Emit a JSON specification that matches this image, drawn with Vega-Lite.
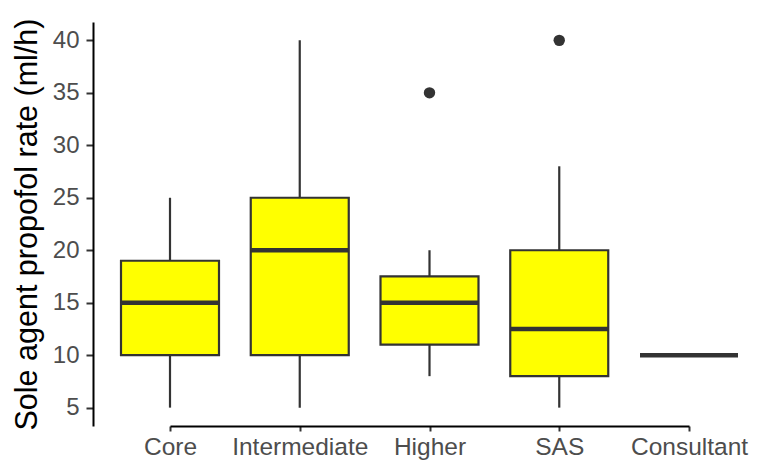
{
  "$schema": "https://vega.github.io/schema/vega-lite/v6.json",
  "width": 665,
  "height": 404,
  "autosize": {"type": "none"},
  "padding": {"left": 93, "top": 22, "right": 0, "bottom": 36},
  "background": "white",
  "config": {
    "view": {"stroke": null},
    "font": "Liberation Sans",
    "axis": {"grid": false, "domainColor": "black", "domainWidth": 2, "tickColor": "#333333", "tickWidth": 2, "tickSize": 7, "labelColor": "#4D4D4D", "labelFont": "Liberation Sans", "labelFontSize": 24.5, "titleFont": "Liberation Sans", "titleFontWeight": "normal", "titleColor": "black"}
  },
  "datasets": {
    "boxes": [
      {"grade": "Core", "lower": 5, "q1": 10, "median": 15, "q3": 19, "upper": 25},
      {"grade": "Intermediate", "lower": 5, "q1": 10, "median": 20, "q3": 25, "upper": 40},
      {"grade": "Higher", "lower": 8, "q1": 11, "median": 15, "q3": 17.5, "upper": 20},
      {"grade": "SAS", "lower": 5, "q1": 8, "median": 12.5, "q3": 20, "upper": 28},
      {"grade": "Consultant", "lower": 10, "q1": 10, "median": 10, "q3": 10, "upper": 10}
    ],
    "outliers": [
      {"grade": "Higher", "rate": 35},
      {"grade": "SAS", "rate": 40}
    ]
  },
  "encoding": {
    "x": {
      "field": "grade", "type": "nominal",
      "scale": {"type": "point", "domain": ["Core", "Intermediate", "Higher", "SAS", "Consultant"], "range": [77, 596], "padding": 0},
      "axis": {"title": null, "labelAngle": 0, "tickSize": 5, "labelPadding": 4, "domain": true}
    }
  },
  "layer": [
    {
      "data": {"name": "boxes"},
      "mark": {"type": "rule", "color": "#333333", "strokeWidth": 2.2},
      "encoding": {
        "y": {"field": "lower", "type": "quantitative", "scale": {"domain": [3.25, 41.75], "nice": false, "zero": false},
          "axis": {"title": "Sole agent propofol rate (ml/h)", "titleFontSize": 30.5, "titlePadding": 10, "values": [5, 10, 15, 20, 25, 30, 35, 40], "labelPadding": 7, "labelFontSize": 24}},
        "y2": {"field": "upper"}
      }
    },
    {
      "data": {"name": "boxes"},
      "mark": {"type": "bar", "fill": "#FFFF00", "stroke": "#333333", "strokeWidth": 2.2, "size": 98},
      "encoding": {
        "y": {"field": "q1", "type": "quantitative"},
        "y2": {"field": "q3"}
      }
    },
    {
      "data": {"name": "boxes"},
      "mark": {"type": "tick", "color": "#333333", "size": 98, "thickness": 4.5, "opacity": 1},
      "encoding": {
        "y": {"field": "median", "type": "quantitative"}
      }
    },
    {
      "data": {"name": "outliers"},
      "mark": {"type": "point", "filled": true, "color": "#333333", "size": 130, "opacity": 1},
      "encoding": {
        "y": {"field": "rate", "type": "quantitative"}
      }
    }
  ]
}
